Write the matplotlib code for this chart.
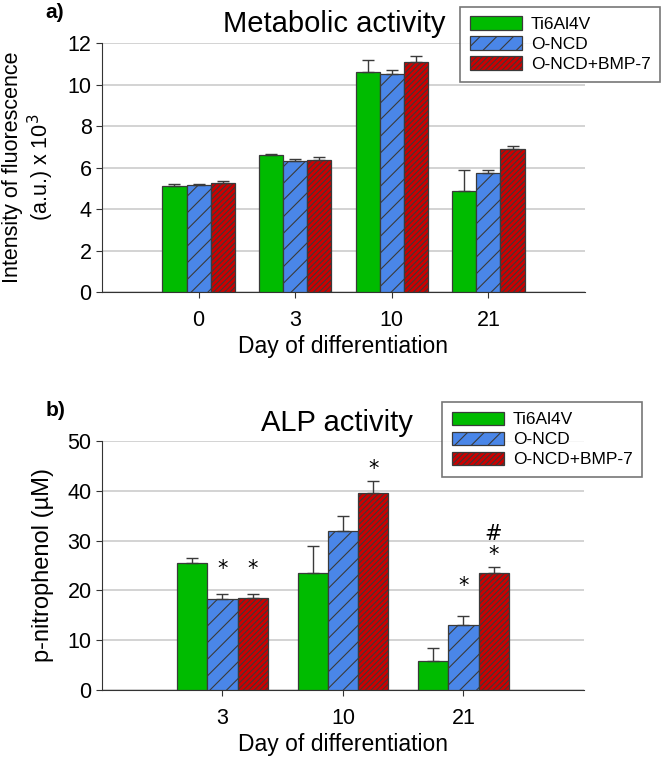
import matplotlib
matplotlib.use("Agg")
import matplotlib.pyplot as plt
import numpy as np
from matplotlib.patches import Patch

plt.rcParams["font.family"] = ["Liberation Sans", "DejaVu Sans"]
plt.rcParams["hatch.linewidth"] = 0.8

# ---- data ----
series = ["Ti6Al4V", "O-NCD", "O-NCD+BMP-7"]

days_a = ["0", "3", "10", "21"]
meta_ti = [5.12, 6.60, 10.61, 4.88]
meta_oncd = [5.17, 6.31, 10.50, 5.73]
meta_bmp = [5.27, 6.36, 11.10, 6.89]
meta_ti_err = [0.10, 0.03, 0.55, 0.98]
meta_oncd_err = [0.03, 0.12, 0.22, 0.15]
meta_bmp_err = [0.06, 0.13, 0.28, 0.16]

days_b = ["3", "10", "21"]
alp_ti = [25.6, 23.4, 5.9]
alp_oncd = [18.2, 31.9, 13.1]
alp_bmp = [18.5, 39.5, 23.4]
alp_ti_err = [0.9, 5.6, 2.6]
alp_oncd_err = [1.1, 3.1, 1.7]
alp_bmp_err = [0.8, 2.4, 1.2]

# significance marks: (day index, series index, symbol, height)
alp_marks = [
    (0, 1, "*", 24.2),
    (0, 2, "*", 24.2),
    (1, 2, "*", 44.3),
    (2, 1, "*", 20.9),
    (2, 2, "*", 27.2),
    (2, 2, "#", 31.3),
]

colors = ["#00bb00", "#4a86e8", "#cc0000"]
hatches = ["", "//", "//////"]
edge = "#3a3a3a"


def draw_bars(ax, labels, values, errors, ymax, ystep):
    x = np.arange(len(labels))
    width = 0.25
    for i, (vals, errs) in enumerate(zip(values, errors)):
        pos = x + (i - 1) * width
        ax.bar(pos, vals, width, color=colors[i], hatch=hatches[i],
               edgecolor=edge, linewidth=0.9, zorder=3)
        ax.errorbar(pos, vals, yerr=[np.zeros(len(vals)), errs], fmt="none",
                    ecolor=edge, elinewidth=1.0, capsize=4, capthick=1.0, zorder=4)
    ax.set_xlim(-1, len(labels))
    ax.set_ylim(0, ymax)
    ax.set_xticks(x)
    ax.set_xticklabels(labels)
    ax.set_yticks(np.arange(0, ymax + 0.1, ystep))
    ax.yaxis.grid(True, color="#cccccc", linewidth=1.2, zorder=0)
    ax.set_axisbelow(True)
    for s in ["top", "right"]:
        ax.spines[s].set_visible(False)
    ax.spines["left"].set_color("#333333")
    ax.spines["bottom"].set_color("#333333")
    ax.tick_params(axis="both", labelsize=15.5, length=4, color="#333333")
    ax.tick_params(axis="x", pad=9)
    ax.set_xlabel("Day of differentiation", fontsize=16.5, labelpad=3)
    return x, width


def add_legend(fig, rect):
    handles = [Patch(facecolor=colors[i], hatch=hatches[i], edgecolor=edge,
                     linewidth=0.9, label=series[i]) for i in range(3)]
    leg = fig.legend(handles=handles, loc="upper right", bbox_to_anchor=rect,
                     fontsize=12.5, frameon=True, fancybox=False,
                     handlelength=3.0, handleheight=0.8, handletextpad=0.5,
                     borderpad=0.55, labelspacing=0.25, borderaxespad=0)
    leg.get_frame().set_edgecolor("#555555")
    leg.get_frame().set_linewidth(1.2)


fig = plt.figure(figsize=(6.68, 7.63), dpi=100)

# panel a
ax1 = fig.add_axes([0.1527, 0.6173, 0.723, 0.3263])
draw_bars(ax1, days_a, [meta_ti, meta_oncd, meta_bmp],
          [meta_ti_err, meta_oncd_err, meta_bmp_err], 12, 2)
ax1.set_ylabel("Intensity of fluorescence\n(a.u.) x 10$^3$", fontsize=15.5,
               labelpad=8, linespacing=1.15)
fig.text(0.50, 0.968, "Metabolic activity", fontsize=21, ha="center", va="center")
fig.text(0.068, 0.984, "a)", fontsize=15, fontweight="bold", ha="left", va="center")
add_legend(fig, (0.988, 0.991))

# panel b
ax2 = fig.add_axes([0.1527, 0.0957, 0.7215, 0.3263])
x, w = draw_bars(ax2, days_b, [alp_ti, alp_oncd, alp_bmp],
                 [alp_ti_err, alp_oncd_err, alp_bmp_err], 50, 10)
ax2.set_ylabel("p-nitrophenol (\u00b5M)", fontsize=17, labelpad=10)
for g, s, sym, h in alp_marks:
    ax2.text(x[g] + (s - 1) * w, h, sym, fontsize=15, ha="center", va="center",
             family="DejaVu Sans")
fig.text(0.505, 0.445, "ALP activity", fontsize=21, ha="center", va="center")
fig.text(0.068, 0.462, "b)", fontsize=15, fontweight="bold", ha="left", va="center")
add_legend(fig, (0.961, 0.473))

fig.savefig("out.png", dpi=100)
